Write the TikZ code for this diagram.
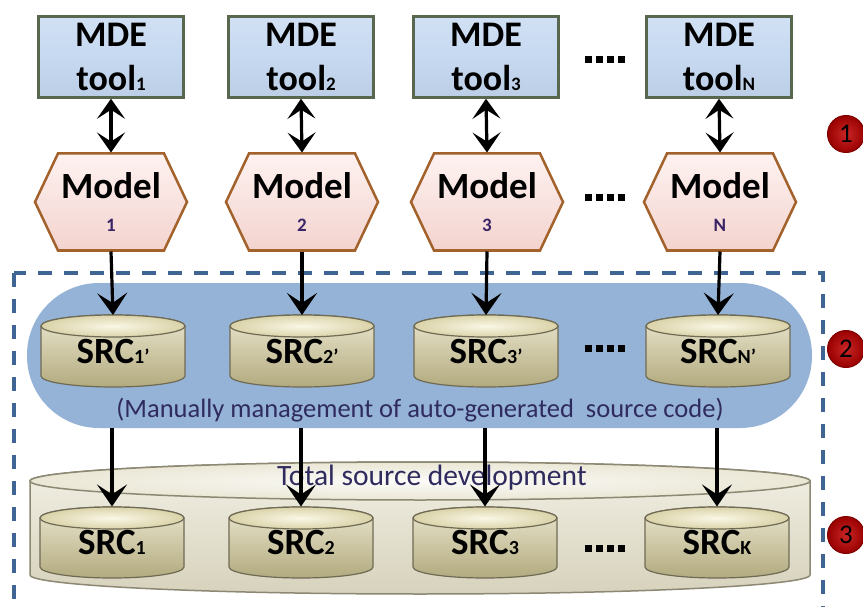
\documentclass[tikz,border=0pt]{standalone}
\usepackage{fontspec}
\setmainfont{Carlito}
\usetikzlibrary{arrows.meta}

\definecolor{toolfill}{HTML}{C6D9F1}
\definecolor{toolline}{HTML}{59674E}
\definecolor{modfill}{HTML}{FDE9E7}
\definecolor{modshade}{HTML}{F3D3CE}
\definecolor{modline}{HTML}{A3612B}
\definecolor{mgmtblue}{HTML}{95B3D7}
\definecolor{frameblue}{HTML}{3F6594}
\definecolor{drumtop}{HTML}{FAF7E6}
\definecolor{drumside}{HTML}{DAD3A9}
\definecolor{drumdark}{HTML}{B2AA7E}
\definecolor{drumline}{HTML}{6F6A54}
\definecolor{vatside}{HTML}{EAE7D5}
\definecolor{vatdark}{HTML}{D6D2BC}
\definecolor{vatline}{HTML}{8C8873}
\definecolor{inktext}{HTML}{2F2B5E}
\definecolor{idxcol}{HTML}{3B2466}
\definecolor{badge}{HTML}{C00000}
\definecolor{badgeline}{HTML}{7F0000}

% small index set on the baseline, as in "tool1" and "SRC1'"
\newcommand\idx[2]{{\fontsize{#1}{#1}\selectfont #2}}

% a source-code drum: centre x, top y, bottom y, half width, end radius
\newcommand\drumshape[5]{%
  \path[draw=drumline, line width=1.2pt, top color=drumside!55!white, bottom color=drumdark]
    (#1-#4,#2+#5) -- (#1-#4,#3-#5)
    arc[start angle=180,end angle=360,x radius=#4pt,y radius=#5pt]
    -- (#1+#4,#2+#5)
    arc[start angle=0,end angle=180,x radius=#4pt,y radius=#5pt] -- cycle;
  \path[draw=drumline, line width=1.2pt, inner color=drumtop, outer color=drumside]
    (#1,#2+#5) ellipse[x radius=#4pt,y radius=#5pt];
}

% model hexagon: centre x, centre y
\newcommand\modelhex[2]{%
  \path[draw=modline, line width=2.5pt, line join=miter, top color=modfill!60!white, bottom color=modshade]
    (#1-76,#2) -- (#1-53,#2-48.5) -- (#1+53,#2-48.5) -- (#1+76,#2)
    -- (#1+53,#2+48.5) -- (#1-53,#2+48.5) -- cycle;
}

\tikzset{
  toolbox/.style={draw=toolline, line width=2.5pt, top color=toolfill!80!white, bottom color=toolfill!95!black,
    middle color=toolfill, minimum width=145pt, minimum height=81pt, inner sep=0pt, align=center,
    font=\bfseries\fontsize{36}{44}\selectfont},
  hexnode/.style={minimum width=154pt, minimum height=99pt, inner sep=0pt, outer sep=0pt, align=center,
    font=\bfseries\fontsize{37}{37}\selectfont},
  drumnode/.style={minimum width=145pt, minimum height=72pt, inner sep=0pt, outer sep=0pt,
    font=\bfseries\fontsize{37}{37}\selectfont},
  badgenode/.style={circle, draw=badgeline, line width=1pt, inner color=badge!85!white, outer color=badge!80!black,
    minimum size=37pt, inner sep=0pt, font=\fontsize{27}{27}\selectfont},
  flowarrow/.style={line width=3.2pt, -{Stealth[length=22pt,width=30pt,inset=10pt]}},
  dualarrow/.style={line width=3.2pt, {Stealth[length=20pt,width=28pt,inset=9pt]}-{Stealth[length=20pt,width=28pt,inset=9pt]}},
  frame/.style={draw=frameblue, line width=3.5pt, dash pattern=on 14pt off 12pt},
  caption/.style={text=inktext, font=\fontsize{26.5}{26.5}\selectfont, inner sep=0pt},
}

\begin{document}
\begin{tikzpicture}[x=1pt,y=-1pt]
\useasboundingbox (0,0) rectangle (863,607);
\fill[white] (0,0) rectangle (863,607);

% dashed frame around code management and development
\draw[frame] (14,273) rectangle (823,640);

% manual management area
\node[fill=mgmtblue, rounded corners=72pt, minimum width=785pt, minimum height=145pt, inner sep=0pt] (mgmt) at (419.5,355.5) {};
\node[caption] (mgmttext) at (420,410) {(Manually management of auto-generated\ \ source code)};

% total source development vat
\path[draw=vatline, line width=1.5pt, top color=vatside!60!white, bottom color=vatdark]
  (30,481) -- (30,575) arc[start angle=180,end angle=360,x radius=390pt,y radius=19pt]
  -- (810,481) arc[start angle=0,end angle=180,x radius=390pt,y radius=19pt] -- cycle;
\path[draw=vatline, line width=1.5pt, inner color=white!85!vatside, outer color=vatside]
  (420,481) ellipse[x radius=390pt,y radius=19pt];
\node[caption, font=\fontsize{29.5}{29.5}\selectfont] (total) at (432,478) {Total source development};

% generated source drums
\drumshape{113}{315}{387}{72}{11}
\drumshape{302}{315}{387}{72}{11}
\drumshape{486}{315}{387}{72}{11}
\drumshape{718}{315}{387}{72}{11}
\node[drumnode] (p1) at (113,351) {SRC\idx{20}{1’}};
\node[drumnode] (p2) at (302,351) {SRC\idx{20}{2’}};
\node[drumnode] (p3) at (486,351) {SRC\idx{20}{3’}};
\node[drumnode] (pN) at (718,351) {SRC\idx{20}{N’}};

% developed source drums
\drumshape{112}{507}{578}{72}{11}
\drumshape{301}{507}{578}{72}{11}
\drumshape{485}{507}{578}{72}{11}
\drumshape{717}{507}{578}{72}{11}
\node[drumnode] (s1) at (112,542.5) {SRC\idx{20}{1}};
\node[drumnode] (s2) at (301,542.5) {SRC\idx{20}{2}};
\node[drumnode] (s3) at (485,542.5) {SRC\idx{20}{3}};
\node[drumnode] (sK) at (717,542.5) {SRC\idx{20}{K}};

% MDE tools
\node[toolbox] (t1) at (111,57) {MDE\\tool\idx{19}{1}};
\node[toolbox] (t2) at (301,57) {MDE\\tool\idx{19}{2}};
\node[toolbox] (t3) at (486,57) {MDE\\tool\idx{19}{3}};
\node[toolbox] (tN) at (719,57) {MDE\\tool\idx{19}{N}};

% models
\modelhex{111}{202}
\modelhex{302}{202}
\modelhex{487}{202}
\modelhex{720}{202}
\node[hexnode] (m1) at (111,202) {Model\\[-4pt]\idx{19}{\color{idxcol}1}};
\node[hexnode] (m2) at (302,202) {Model\\[-4pt]\idx{19}{\color{idxcol}2}};
\node[hexnode] (m3) at (487,202) {Model\\[-4pt]\idx{19}{\color{idxcol}3}};
\node[hexnode] (mN) at (720,202) {Model\\[-4pt]\idx{19}{\color{idxcol}N}};

% connectors
\draw[dualarrow] (t1.south) -- (m1.north);
\draw[dualarrow] (t2.south) -- (m2.north);
\draw[dualarrow] (t3.south) -- (m3.north);
\draw[dualarrow] (tN.south) -- (mN.north);
\draw[flowarrow] (m1.south) -- (p1.north);
\draw[flowarrow] (m2.south) -- (p2.north);
\draw[flowarrow] (m3.south) -- (p3.north);
\draw[flowarrow] (mN.south) -- (pN.north);
\draw[flowarrow] (mgmt.south -| s1.north) -- (s1.north);
\draw[flowarrow] (mgmt.south -| s2.north) -- (s2.north);
\draw[flowarrow] (mgmt.south -| s3.north) -- (s3.north);
\draw[flowarrow] (mgmt.south -| sK.north) -- (sK.north);

% continuation dots
\foreach \y in {60,198,348,548}
  \foreach \x in {588,599,610,621}
    \fill (\x-3.5,\y-3.5) rectangle ++(7,7);

% level badges
\node[badgenode] (b1) at (846,134) {1};
\node[badgenode] (b2) at (846,349) {2};
\node[badgenode] (b3) at (846,535) {3};
\end{tikzpicture}
\end{document}
